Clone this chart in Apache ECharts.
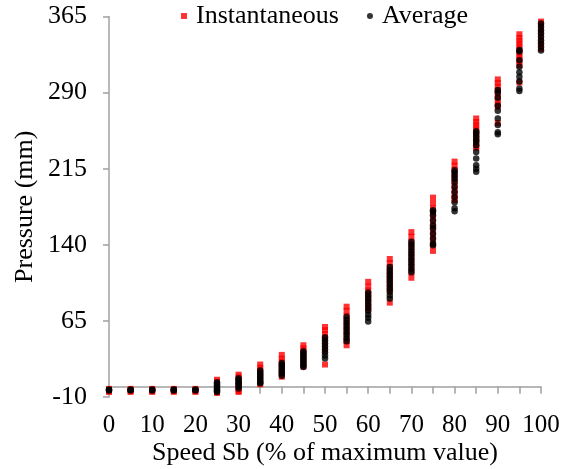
<!DOCTYPE html>
<html>
<head>
<meta charset="utf-8">
<script src="https://cdn.jsdelivr.net/npm/echarts@6/dist/echarts.min.js"></script>
<style>html,body{margin:0;padding:0;background:#fff;}#c{width:568px;height:469px;}</style>
</head>
<body>
<div id="c"></div>
<script>
var speeds = [0,5,10,15,20,25,30,35,40,45,50,55,60,65,70,75,80,85,90,95,100];
var instantaneous = [
  [-2,-3,-4,-5],
  [-2,-3,-4,-5],
  [-2,-3,-4,-5],
  [-2,-3,-4,-5],
  [-2,-3,-4,-5],
  [7,5,3,1,-1,-3,-5,-6],
  [12,10,7,4,1,-2,-4,-5],
  [22,19,16,13,10,7,4,2.5],
  [31.5,28,25,22,19,16,13,10],
  [41,38,35,32,29,26,23,20],
  [59,56,52,48,44,40,36,22],
  [79,75,70,65,60,55,50,45,41],
  [103.5,99,95,91,87,83,79,75.5],
  [126,122,118,114,110,106,102,98,94,83],
  [152.5,148,143,138,133,128,123,118,113,107.5],
  [186.5,181,176,171,166,160,155,150,145,140,134],
  [222,218,214,210,206,202,198,194,190,186,184],
  [264.5,261,258,255,252,249,246,243,240,237,235.5],
  [303,299.5,296,292.5,289,285.5,282,278.5,276,260],
  [347.5,344,341,338,335,332,329,326,323,320,317,300],
  [360,357,353,349,345,341,337,333]
];
var average = [
  [-2.5,-3,-3.5],
  [-2.5,-3,-3.5],
  [-2.5,-3,-3.5],
  [-2.5,-3,-3.5],
  [-2.5,-3,-3.5],
  [4.5,3,1.5,0,-1.5,-3,-4,-5],
  [8.5,7,5,3.5,2,0,-1.5],
  [16,14,12,10,8,6,4,3.5],
  [23.5,21.5,19.5,17.5,15.5,13.5,11],
  [35,33,31,29,27,25,23,21,19.5],
  [49,46,43,40,37,34,31,28],
  [69,66,63,60,57,54,51,48,45],
  [93,90,87,84,81,78,75,71,68,64.5],
  [118,115,112,109,106,103,100,97,94,90,87],
  [143,140,137,134,131,128,125,122,119,116,113],
  [174,172.5,169,164,159,156,151,146,141,139.5],
  [213.5,211,208,205,202,197,192,187,182,176,173],
  [252,250,247,244,241.5,238,231.5,225,218.5,215,212],
  [292.5,290,285,277,272,264.5,258,251,249],
  [332,330.5,322,315.5,310,305.5,301,294,291.5],
  [358,355,351.5,348.5,345,341.5,338.5,335,331.5]
];
var yTicks = [-10,65,140,215,290,365];
var xTitle = 'Speed Sb (% of maximum value)';
var yTitle = 'Pressure (mm)';

function pairs(groups){
  var out = [];
  speeds.forEach(function(s,i){ groups[i].forEach(function(v){ out.push([s,v]); }); });
  return out;
}
var FONT = 'Liberation Serif';
var axisGrey = '#a0a0a0';
var chart = echarts.init(document.getElementById('c'), null, {renderer:'canvas'});
chart.setOption({
  animation: false,
  textStyle: {fontFamily: FONT, color: '#000'},
  legend: {
    left: 181, top: 3, padding: 0,
    itemWidth: 6, itemHeight: 6, itemGap: 28,
    textStyle: {fontFamily: FONT, fontSize: 26, color: '#000', padding: [0,0,0,4]},
    data: [
      {name: 'Instantaneous', icon: 'rect'},
      {name: 'Average', icon: 'circle'}
    ]
  },
  grid: {left: 109, right: 27, top: 16.5, bottom: 72, containLabel: false, outerBoundsMode: 'none'},
  xAxis: {
    type: 'value', min: 0, max: 100, interval: 5,
    name: xTitle, nameLocation: 'middle', nameGap: 43, nameMoveOverlap: false,
    nameTextStyle: {fontFamily: FONT, fontSize: 26, color: '#000'},
    axisLine: {onZero: true, lineStyle: {color: axisGrey, width: 1.5}},
    axisTick: {show: true, length: 7, lineStyle: {color: axisGrey, width: 1.5}},
    axisLabel: {fontFamily: FONT, fontSize: 25, color: '#000', margin: 16,
      formatter: function(v){ return v % 10 === 0 ? String(v) : ''; }},
    splitLine: {show: false}
  },
  yAxis: {
    type: 'value', min: yTicks[0], max: yTicks[yTicks.length-1], interval: yTicks[1]-yTicks[0],
    name: yTitle, nameLocation: 'middle', nameGap: 71, nameMoveOverlap: false,
    nameTextStyle: {fontFamily: FONT, fontSize: 26, color: '#000'},
    axisLine: {show: true, onZero: false, lineStyle: {color: axisGrey, width: 1.5}},
    axisTick: {show: true, length: 6, lineStyle: {color: axisGrey, width: 1.5}},
    axisLabel: {fontFamily: FONT, fontSize: 26, color: '#000', margin: 22},
    splitLine: {show: false}
  },
  series: [
    {name: 'Instantaneous', type: 'scatter', symbol: 'rect', symbolSize: [6,6],
     itemStyle: {color: '#ff0000'}, data: pairs(instantaneous), z: 2},
    {name: 'Average', type: 'scatter', symbol: 'circle', symbolSize: 6.5,
     itemStyle: {color: '#000'}, data: pairs(average), z: 3}
  ]
});
</script>
</body>
</html>
